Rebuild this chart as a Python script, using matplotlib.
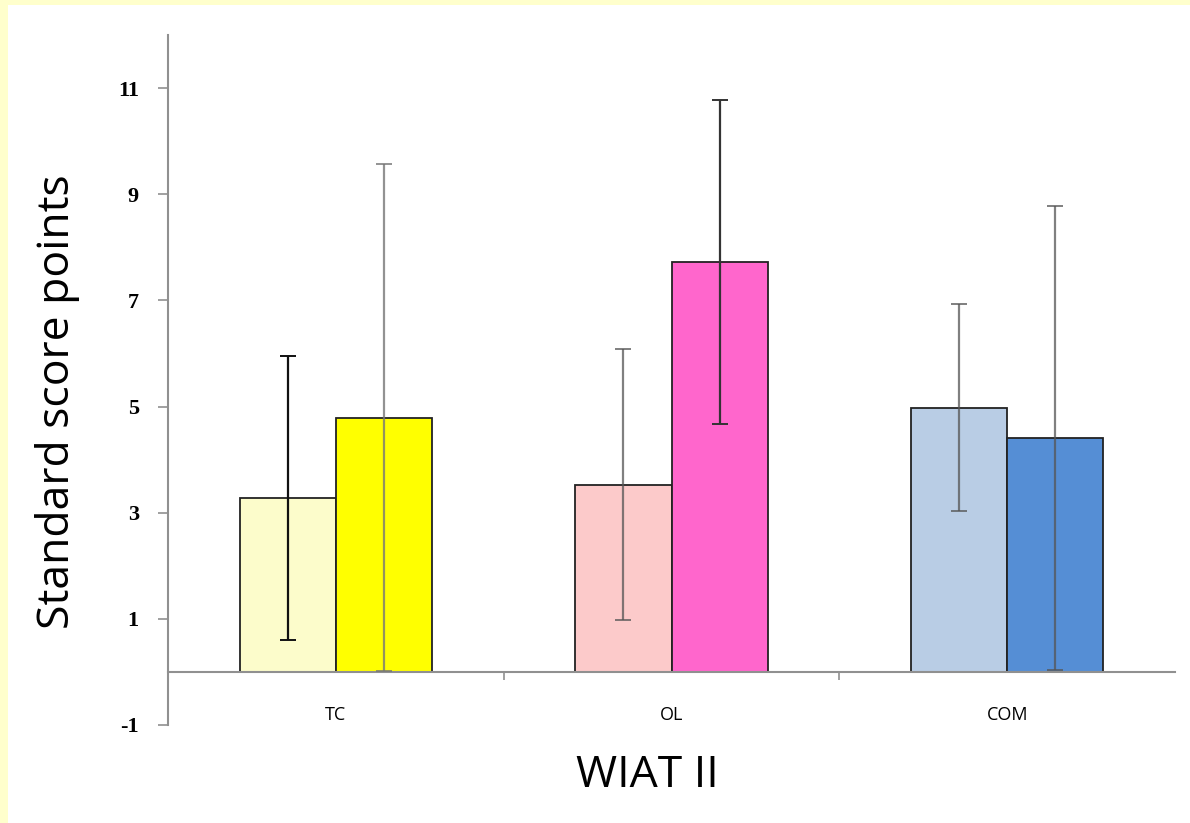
import matplotlib.pyplot as plt
from matplotlib.patches import Rectangle
from matplotlib.transforms import blended_transform_factory

categories = ["TC", "OL", "COM"]
# two bars per category (left: lighter shade, right: darker shade)
means_left = [3.28, 3.53, 4.98]
errs_left = [2.68, 2.55, 1.95]
means_right = [4.79, 7.72, 4.40]
errs_right = [4.78, 3.05, 4.37]

colors_left = ["#FCFCCB", "#FCCACA", "#B9CDE5"]
colors_right = ["#FFFF00", "#FF66CC", "#558ED5"]
ecolors_left = ["#111111", "#555555", "#555555"]
ecolors_right = ["#777777", "#333333", "#555555"]
ealpha_left = [1.0, 0.75, 0.75]
ealpha_right = [0.8, 1.0, 0.75]

fig = plt.figure(figsize=(11.9, 8.23), dpi=100)
fig.patch.set_facecolor("#FFFFCC")
fig.patches.append(Rectangle((8 / 1190, 0), 1, 1 - 5 / 823, transform=fig.transFigure,
                             facecolor="white", edgecolor="none", zorder=-10))

ax = fig.add_axes([168 / 1190, 1 - 725 / 823, (1175 - 168) / 1190, (725 - 35) / 823])
ax.set_facecolor("none")
ax.set_zorder(5)

w = 0.286
for i in range(len(categories)):
    ax.bar(i - w / 2, means_left[i], width=w, color=colors_left[i],
           edgecolor="#222222", linewidth=1.3, zorder=2)
    ax.bar(i + w / 2, means_right[i], width=w, color=colors_right[i],
           edgecolor="#222222", linewidth=1.3, zorder=2)
    ax.errorbar(i - w / 2, means_left[i], yerr=errs_left[i], fmt="none",
                ecolor=ecolors_left[i], alpha=ealpha_left[i], elinewidth=1.6,
                capsize=6, capthick=1.4, zorder=3)
    ax.errorbar(i + w / 2, means_right[i], yerr=errs_right[i], fmt="none",
                ecolor=ecolors_right[i], alpha=ealpha_right[i], elinewidth=1.6,
                capsize=6, capthick=1.4, zorder=3)

ax.set_xlim(-0.5, 2.5)
ax.set_ylim(-1, 12)
ax.set_yticks([-1, 1, 3, 5, 7, 9, 11])
ax.set_yticklabels(["-1", "1", "3", "5", "7", "9", "11"],
                   fontfamily="Liberation Serif", fontweight="bold", fontsize=16)
ax.tick_params(axis="y", length=7, width=1.2, color="#909090", pad=14)

ax.spines["top"].set_visible(False)
ax.spines["right"].set_visible(False)
ax.spines["left"].set_color("#909090")
ax.spines["left"].set_linewidth(1.5)
ax.spines["bottom"].set_position(("data", 0))
ax.spines["bottom"].set_color("#909090")
ax.spines["bottom"].set_linewidth(1.5)
ax.set_xticks([0.5, 1.5])
ax.set_xticklabels([])
ax.tick_params(axis="x", length=6, width=1.2, color="#909090", direction="out")

trans = blended_transform_factory(ax.transData, ax.transAxes)
for i, c in enumerate(categories):
    ax.text(i, 0.015, c, transform=trans, ha="center", va="center",
            fontsize=13, fontfamily="Open Sans")

fig.text(58 / 1190, 1 - 402 / 823, "Standard score points", rotation=90,
         ha="center", va="center", fontsize=32, fontfamily="Open Sans")
fig.text(647 / 1190, 1 - 776 / 823, "WIAT II", ha="center", va="center",
         fontsize=32, fontfamily="Open Sans")

fig.savefig("out.png", dpi=100, facecolor=fig.get_facecolor())
